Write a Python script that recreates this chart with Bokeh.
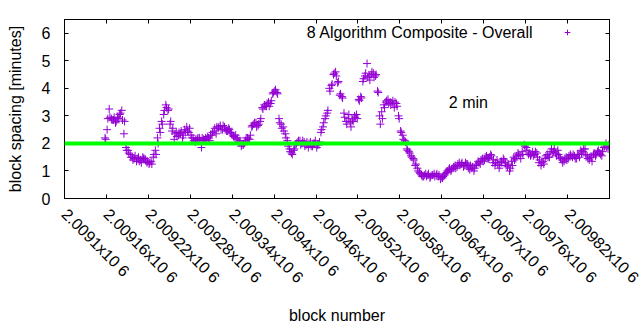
import math
from bokeh.plotting import figure
from bokeh.models import (Range1d, FixedTicker, LinearAxis, Span, Label,
                          Legend, LegendItem, ColumnDataSource, CustomLabelingPolicy)
from bokeh.core.properties import value
from bokeh.embed import file_html
from bokeh.resources import INLINE

# ---------------- data ----------------
series_name = "8 Algorithm Composite - Overall"
first_block = 2009158
block_step = 3
# block spacing (minutes) for blocks first_block + 3*i
spacing_minutes_a = [
    2.2, 2.5, 3.25, 2.9, 2.85, 2.75, 2.95, 3.05, 3.2, 2.35,
    1.85, 1.75, 1.6, 1.5, 1.45, 1.35, 1.5, 1.4, 1.5, 1.45,
    1.3, 1.25, 1.35, 1.5, 1.75, 2.2, 2.55, 2.8, 3.05, 3.4,
    3.2, 2.7, 2.45, 2.15, 2.4, 2.3, 2.35, 2.2, 2.5, 2.6,
    2.4, 2.3, 2.2, 2.05, 2.15, 2.2, 1.85, 2.15, 2.2, 2.25,
    2.1, 2.3, 2.45, 2.35, 2.55, 2.65, 2.5, 2.6, 2.45, 2.55,
    2.4, 2.3, 2.2, 2.15, 2.05, 1.9, 1.95, 2.1, 2.2, 2.15,
    2.6, 2.7, 2.75, 2.65, 2.8, 3.3, 3.4, 3.35, 3.5, 3.45,
    3.8, 3.9, 3.85, 2.9, 2.7, 2.6, 2.35, 2.1, 1.8, 1.65,
    1.75, 1.95, 2.05, 2.1, 2.0, 2.05, 1.95, 1.85, 2.05, 1.9,
    2.0, 1.85, 1.95, 2.4, 2.6, 2.9, 3.1, 4.0, 4.1, 4.5,
    4.6, 4.2, 3.75, 3.7, 3.1, 2.8, 2.9, 2.75, 2.85, 3.0,
    3.05, 3.6, 3.7, 4.25, 4.45, 4.9, 4.45, 4.5, 4.55, 4.45,
    3.9, 3.0, 3.15, 3.4, 3.5, 3.6, 3.5, 3.45, 3.3, 3.45,
    3.0, 2.45, 2.3, 2.1, 1.8, 1.7, 1.55, 1.45, 1.2, 1.1,
    0.95, 0.85, 0.8, 0.9, 0.85, 0.75, 0.85, 0.9, 0.85, 0.8,
    0.7, 0.75, 0.85, 0.95, 1.05, 1.0, 1.1, 1.2, 1.15, 1.3,
    1.25, 1.15, 1.3, 1.25, 1.05, 1.1, 1.0, 1.2, 1.35, 1.25,
    1.45, 1.4, 1.55, 1.45, 1.6, 1.3, 1.2, 1.4, 1.1, 1.35,
    1.45, 1.3, 1.15, 1.0, 1.35, 1.5, 1.45, 1.65, 1.55, 1.7,
    1.95, 1.85, 1.6, 1.55, 1.7, 1.6, 1.65, 1.3, 1.2, 1.35,
    1.45, 1.6, 1.5, 1.8, 1.7, 1.65, 1.75, 1.5, 1.4, 1.35,
    1.5, 1.45, 1.6, 1.5, 1.55, 1.45, 1.6, 1.75, 1.7, 1.8,
    1.55, 1.4, 1.5, 1.6, 1.55, 1.7, 1.65, 1.55, 1.85, 2.0,
    1.8,
]
# block spacing (minutes) for blocks first_block + 1 + 3*i
spacing_minutes_b = [
    2.15, 2.9, 2.95, 2.85, 2.95, 2.8, 2.9, 3.1, 2.85, 2.8,
    1.75, 1.65, 1.5, 1.4, 1.55, 1.45, 1.35, 1.3, 1.45, 1.4,
    1.35, 1.3, 1.25, 1.6, 1.6, 2.0, 2.4, 2.7, 3.2, 3.3,
    3.25, 2.8, 2.55, 2.35, 2.25, 2.4, 2.45, 2.3, 2.4, 2.45,
    2.55, 2.2, 2.1, 2.15, 2.2, 2.1, 2.2, 2.1, 2.15, 2.2,
    2.3, 2.4, 2.55, 2.6, 2.6, 2.5, 2.65, 2.5, 2.45, 2.5,
    2.35, 2.25, 2.3, 2.2, 2.1, 1.95, 2.0, 2.2, 2.15, 2.3,
    2.65, 2.75, 2.6, 2.7, 2.9, 3.25, 3.35, 3.45, 3.35, 3.55,
    3.85, 3.95, 3.8, 2.75, 2.55, 2.45, 2.2, 1.9, 1.7, 1.6,
    1.8, 2.0, 2.1, 1.95, 2.1, 1.9, 2.05, 2.0, 1.9, 2.0,
    2.1, 1.95, 2.05, 2.5, 2.75, 3.0, 3.2, 3.9, 4.15, 4.55,
    4.45, 4.25, 3.8, 3.65, 2.95, 2.7, 3.05, 2.6, 2.8, 2.95,
    2.9, 3.55, 3.65, 4.35, 4.55, 4.4, 4.3, 4.6, 4.4, 4.5,
    3.85, 2.7, 2.9, 3.3, 3.55, 3.45, 3.4, 3.55, 3.5, 3.35,
    2.9, 2.4, 2.15, 2.05, 1.75, 1.65, 1.5, 1.4, 1.25, 1.0,
    0.9, 0.8, 0.85, 0.8, 0.9, 0.8, 0.85, 0.8, 0.9, 0.85,
    0.75, 0.8, 0.9, 1.0, 1.1, 1.05, 1.15, 1.1, 1.25, 1.2,
    1.3, 1.2, 1.25, 1.1, 1.2, 1.15, 1.1, 1.25, 1.3, 1.4,
    1.35, 1.5, 1.45, 1.5, 1.55, 1.4, 1.3, 1.25, 1.2, 1.3,
    1.4, 1.2, 1.25, 1.1, 1.2, 1.4, 1.55, 1.6, 1.45, 1.6,
    1.9, 1.75, 1.65, 1.6, 1.55, 1.7, 1.5, 1.4, 1.3, 1.25,
    1.55, 1.5, 1.7, 1.65, 1.8, 1.55, 1.6, 1.45, 1.3, 1.45,
    1.4, 1.55, 1.55, 1.6, 1.45, 1.6, 1.5, 1.65, 1.8, 1.6,
    1.45, 1.5, 1.35, 1.65, 1.6, 1.75, 1.6, 1.7, 1.9, 1.85,
    1.95,
]
blocks_a = [first_block + block_step * i for i in range(len(spacing_minutes_a))]
blocks_b = [first_block + 1 + block_step * i for i in range(len(spacing_minutes_b))]

target_minutes = 2
target_label = "2 min"
target_label_x = 2009650
target_label_y = 3.5

x_ticks = [2009100, 2009160, 2009220, 2009280, 2009340, 2009400, 2009460,
           2009520, 2009580, 2009640, 2009700, 2009760, 2009820, 2009880]
# the tick at the right border (2.00988x10 6) is cut off by the window edge
x_tick_labels = ["2.0091x10 6", "2.00916x10 6", "2.00922x10 6", "2.00928x10 6",
                 "2.00934x10 6", "2.0094x10 6", "2.00946x10 6", "2.00952x10 6",
                 "2.00958x10 6", "2.00964x10 6", "2.0097x10 6", "2.00976x10 6",
                 "2.00982x10 6", ""]
y_ticks = [0, 1, 2, 3, 4, 5, 6]
x_min, x_max = 2009100, 2009880
y_min, y_max = 0, 6.5

# ---------------- style ----------------
FONT = "Liberation Sans"
FS = "16px"
PURPLE = "#9400d3"
GREEN = "#00ff00"

p = figure(frame_width=545, frame_height=179, output_backend="svg",
           toolbar_location=None, x_range=Range1d(x_min, x_max),
           y_range=Range1d(y_min, y_max),
           min_border_left=64, min_border_right=31, min_border_top=19,
           min_border_bottom=132)
p.background_fill_color = "white"
p.border_fill_color = "white"
p.outline_line_color = "black"
p.outline_line_width = 1
p.xgrid.visible = False
p.ygrid.visible = False

src = ColumnDataSource(dict(block=blocks_a + blocks_b,
                            minutes=spacing_minutes_a + spacing_minutes_b))
r = p.scatter("block", "minutes", source=src, marker="cross", size=8,
              line_color=PURPLE, line_width=1)

p.add_layout(Span(location=target_minutes, dimension="width",
                  line_color=GREEN, line_width=4))

HIDE_LABELS = "return new Set()"

def style_axis(ax, ticks, show_labels):
    ax.ticker = FixedTicker(ticks=ticks)
    ax.minor_tick_line_color = None
    ax.major_tick_in = 4
    ax.major_tick_out = 0
    ax.axis_line_color = "black"
    ax.major_tick_line_color = "black"
    ax.major_label_text_font = FONT
    ax.major_label_text_font_size = FS if show_labels else "0px"
    ax.major_label_text_color = "black"
    if not show_labels:
        ax.major_label_policy = CustomLabelingPolicy(code=HIDE_LABELS)
        ax.major_label_standoff = 0
    ax.axis_label_text_font = FONT
    ax.axis_label_text_font_size = FS
    ax.axis_label_text_font_style = "normal"
    ax.axis_label_text_color = "black"

xa = p.xaxis[0]
style_axis(xa, x_ticks, True)
xa.major_label_overrides = dict(zip(x_ticks, x_tick_labels))
xa.major_label_orientation = -math.pi / 4
xa.major_label_standoff = 13
xa.axis_label = "block number"
xa.axis_label_standoff = 12

ya = p.yaxis[0]
style_axis(ya, y_ticks, True)
ya.major_label_standoff = 14
ya.axis_label = "block spacing [minutes]"
ya.axis_label_standoff = 15

top_ax = LinearAxis()
style_axis(top_ax, x_ticks, False)
p.add_layout(top_ax, "above")

right_ax = LinearAxis()
style_axis(right_ax, y_ticks, False)
p.add_layout(right_ax, "right")

p.add_layout(Label(x=target_label_x, y=target_label_y, text=target_label,
                   text_font=FONT, text_font_size=FS,
                   text_baseline="middle", text_align="left",
                   text_color="black"))

p.add_layout(Label(x=469, y=166, x_units="screen", y_units="screen",
                   text=series_name, text_font=FONT, text_font_size=FS,
                   text_baseline="middle", text_align="right",
                   text_color="black"))

legend = Legend(items=[LegendItem(label=value(""), renderers=[r])],
                location=(496, 159), margin=0, padding=0, spacing=0,
                glyph_width=14, glyph_height=14, label_width=0,
                label_height=0, label_standoff=0,
                border_line_color=None, background_fill_alpha=0)
p.add_layout(legend)

open("out.html", "w").write(file_html(p, INLINE))
